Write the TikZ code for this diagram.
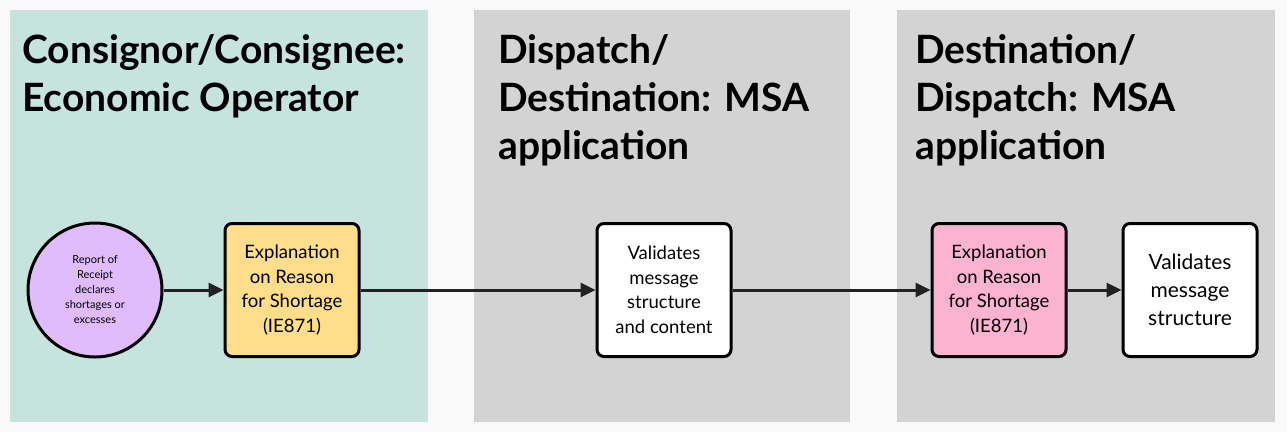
\documentclass[tikz,border=0pt]{standalone}
\usepackage{fontspec}
\setmainfont{Lato}
\usetikzlibrary{positioning, arrows.meta}
\definecolor{Backdrop}{HTML}{F9F9F9}
\definecolor{Operator}{HTML}{C7E3DD}
\definecolor{Msa}{HTML}{D3D3D3}
\definecolor{Report}{HTML}{E1BCFC}
\definecolor{Message}{HTML}{FEDD8B}
\definecolor{Reply}{HTML}{FBB3D0}
\definecolor{Ink}{HTML}{222222}

\begin{document}
\begin{tikzpicture}[
  x=1pt, y=-1pt,
  panel/.style={fill=#1, draw=none},
  title/.style={anchor=north west, align=left, inner sep=0pt, font=\fontsize{39}{48}\selectfont\bfseries},
  stepbox/.style={rectangle, rounded corners=7pt, draw=black, line width=3pt, fill=#1,
    minimum width=134pt, minimum height=133pt, align=center, inner sep=2pt,
    font=\fontsize{18.5}{24.5}\selectfont},
  startnode/.style={circle, draw=black, line width=3pt, fill=Report, minimum size=134pt,
    align=center, inner sep=0pt, font=\fontsize{11}{15}\selectfont},
  flow/.style={draw=Ink, line width=3pt, -{Triangle[length=15pt, width=14pt]}}
]
\useasboundingbox (0,0) rectangle (1287,432);
\fill[Backdrop] (0,0) rectangle (1287,432);

% swim lanes
\fill[panel=Operator] (10,10) rectangle (428,422);
\fill[panel=Msa] (474,10) rectangle (850,422);
\fill[panel=Msa] (897,10) rectangle (1275,422);

\node[title] (lane1) at (22,34) {Consignor/Consignee:\\Economic Operator};
\node[title] (lane2) at (498,34) {Dispatch/\\Destination: MSA\\application};
\node[title] (lane3) at (915,34) {Destination/\\Dispatch: MSA\\application};

% flow
\node[startnode] (ror) at (95,290) {Report of\\Receipt\\declares\\shortages or\\excesses};
\node[stepbox=Message, right=60pt of ror] (ie871a) {Explanation\\on Reason\\for Shortage\\(IE871)};
\node[stepbox=white, right=235pt of ie871a] (validate1) {Validates\\message\\structure\\and content};
\node[stepbox=Reply, right=198pt of validate1] (ie871b) {Explanation\\on Reason\\for Shortage\\(IE871)};
\node[stepbox=white, right=54pt of ie871b, font=\fontsize{21}{28}\selectfont] (validate2) {Validates\\message\\structure};

\draw[flow] (ror) -- (ie871a);
\draw[flow] (ie871a) -- (validate1);
\draw[flow] (validate1) -- (ie871b);
\draw[flow] (ie871b) -- (validate2);
\end{tikzpicture}
\end{document}
